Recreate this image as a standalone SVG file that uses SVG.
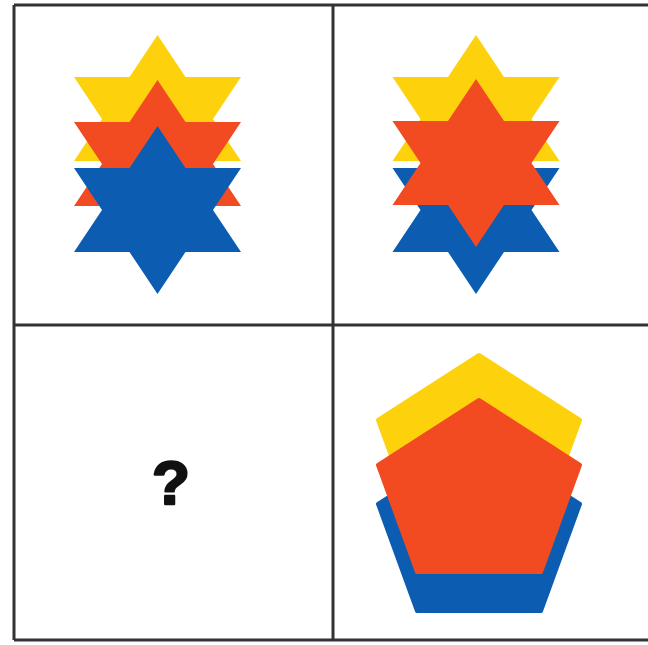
<svg xmlns="http://www.w3.org/2000/svg" width="648" height="645" viewBox="0 0 648 645">
<defs>
<style>
.y{fill:#FDD20C}
.r{fill:#F24A21}
.b{fill:#0C5DB2}
.grid{stroke:#333;stroke-width:3;fill:none}
.pent{stroke-linejoin:round;stroke-width:4}
.q{font-family:"Liberation Sans",Arial,sans-serif;font-weight:bold;font-size:62px;fill:#111;stroke:#111;stroke-width:2.5;stroke-linejoin:round;text-anchor:middle}
</style>
<polygon id="star" points="0,0 28,42 83.5,42 55.5,84 83.5,126 28,126 0,168 -28,126 -83.5,126 -55.5,84 -83.5,42 -28,42"/>
<polygon id="pent" points="0,0 101,65 62,172 -62,172 -101,65"/>
</defs>
<rect width="648" height="645" fill="#fff"/>
<g id="grid" class="grid">
<line x1="14" y1="5" x2="648" y2="5"/>
<line x1="14" y1="640" x2="648" y2="640"/>
<line x1="14" y1="5" x2="14" y2="640"/>
<line x1="333" y1="5" x2="333" y2="640"/>
<line x1="14" y1="325" x2="648" y2="325"/>
</g>
<g id="panel1">
<use href="#star" class="y" x="157.5" y="35"/>
<use href="#star" class="r" x="157.5" y="80"/>
<use href="#star" class="b" x="157.5" y="126"/>
</g>
<g id="panel2">
<use href="#star" class="y" x="476" y="35"/>
<use href="#star" class="b" x="476" y="126"/>
<use href="#star" class="r" x="476" y="79"/>
</g>
<g id="panel3">
<text class="q" x="171" y="504">?</text>
</g>
<g id="panel4">
<use href="#pent" class="y pent" stroke="#FDD20C" x="479" y="355"/>
<use href="#pent" class="b pent" stroke="#0C5DB2" x="479" y="439"/>
<use href="#pent" class="r pent" stroke="#F24A21" x="479" y="400"/>
</g>
</svg>
